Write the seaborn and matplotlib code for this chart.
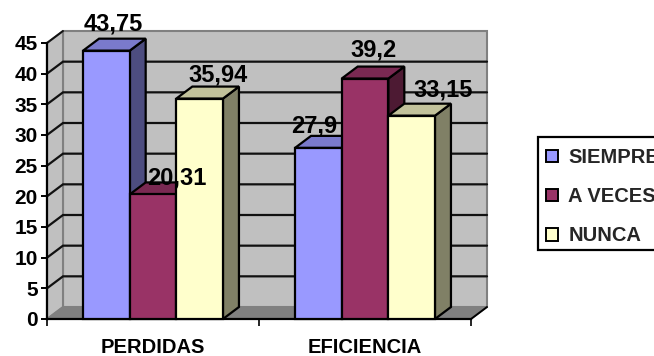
import matplotlib
matplotlib.use("Agg")
import matplotlib.pyplot as plt
from matplotlib.patches import Polygon, Patch, Rectangle
import pandas as pd
import seaborn as sns

categories = ["PERDIDAS", "EFICIENCIA"]
series_names = ["SIEMPRE", "A VECES", "NUNCA"]
siempre = [43.75, 27.9]
a_veces = [20.31, 39.2]
nunca = [35.94, 33.15]
value_labels = [["43,75", "27,9"], ["20,31", "39,2"], ["35,94", "33,15"]]
y_ticks = [0, 5, 10, 15, 20, 25, 30, 35, 40, 45]

front_colors = ["#9999FF", "#993366", "#FFFFCC"]
top_colors = ["#7A7ACC", "#7A2952", "#C2C29B"]
side_colors = ["#4D4D80", "#4D1A33", "#808066"]
# label offsets in pixels from the bar's top centre (series, category)
label_offsets = [[(7, 20), (-4, 15)], [(24, 10), (9, 22)], [(18, 17), (31, 19)]]

W, H = 654, 356
X0, X1, Y0, Y45 = 47, 471, 319, 43
DEPTH_X_PX, DEPTH_Y_PX = 16, 12

df = pd.DataFrame({
    "cat": categories * 3,
    "serie": [s for s in series_names for _ in categories],
    "val": siempre + a_veces + nunca,
})

sns.set_theme(style="white")
plt.rcParams["font.family"] = ["Liberation Sans", "DejaVu Sans"]
plt.rcParams["font.weight"] = "bold"

fig = plt.figure(figsize=(W / 100, H / 100), dpi=100, facecolor="white")
ax = fig.add_axes([X0 / W, (H - Y0) / H, (X1 - X0) / W, (Y0 - Y45) / H])
ax.patch.set_alpha(0)

sns.barplot(data=df, x="cat", y="val", hue="serie", hue_order=series_names,
            order=categories, palette=front_colors, width=0.66, gap=0,
            saturation=1, edgecolor="black", linewidth=1.6, ax=ax, legend=False)
ax.set_xlim(-0.5, 1.5)
ax.set_ylim(0, 45)
dx = DEPTH_X_PX * 2 / (X1 - X0)
dy = DEPTH_Y_PX * 45 / (Y0 - Y45)

# walls and floor
wall_kw = dict(clip_on=False, zorder=0.5)
ax.add_patch(Polygon([(-0.5 + dx, dy), (1.5 + dx, dy), (1.5 + dx, 45 + dy), (-0.5 + dx, 45 + dy)],
                     fc="#C0C0C0", ec="#808080", lw=1.5, **wall_kw))
ax.add_patch(Polygon([(-0.5, 0), (-0.5 + dx, dy), (-0.5 + dx, 45 + dy), (-0.5, 45)],
                     fc="#C0C0C0", ec="#808080", lw=1.5, **wall_kw))
ax.add_patch(Polygon([(-0.5, 0), (1.5, 0), (1.5 + dx, dy), (-0.5 + dx, dy)],
                     fc="#808080", ec="#808080", lw=1, **wall_kw))
for t in y_ticks[1:-1]:
    ax.plot([-0.5, -0.5 + dx, 1.5 + dx], [t, t + dy, t + dy], color="#111111",
            lw=1.6, clip_on=False, zorder=0.8, solid_joinstyle="miter")
ax.plot([-0.5, -0.5 + dx], [45, 45 + dy], color="#111111", lw=1.4, clip_on=False, zorder=0.8)
ax.plot([1.5, 1.5 + dx], [0, dy], color="black", lw=1.4, clip_on=False, zorder=0.8)

# 3D faces, each series stacked above the one before it
for i, cont in enumerate(ax.containers):
    z = 2 + i
    for j, bar in enumerate(cont):
        x, w, v = bar.get_x(), bar.get_width(), bar.get_height()
        bar.set_zorder(z + 0.1)
        bar.set_clip_on(False)
        ax.add_patch(Polygon([(x + w, 0), (x + w + dx, dy), (x + w + dx, v + dy), (x + w, v)],
                             fc=side_colors[i], ec="black", lw=1.6, zorder=z, clip_on=False))
        ax.add_patch(Polygon([(x, v), (x + dx, v + dy), (x + w + dx, v + dy), (x + w, v)],
                             fc=top_colors[i], ec="black", lw=1.6, zorder=z, clip_on=False))
        ax.annotate(value_labels[i][j], xy=(x + w / 2, v), xytext=label_offsets[i][j],
                    textcoords="offset pixels", ha="center", va="baseline",
                    fontsize=17, fontweight="bold", color="black", zorder=10,
                    annotation_clip=False)

# axes
for s in ["top", "right"]:
    ax.spines[s].set_visible(False)
for s in ["left", "bottom"]:
    ax.spines[s].set_color("black")
    ax.spines[s].set_linewidth(1.6)
    ax.spines[s].set_zorder(1.5)
ax.set_xlabel("")
ax.set_ylabel("")
ax.set_yticks(y_ticks)
ax.set_xticks([-0.5, 0.5, 1.5], labels=["", "", ""])
ax.set_xticks([0, 1], labels=categories, minor=True)
ax.tick_params(axis="y", which="major", left=True, length=4.5, width=1.4, color="black",
               pad=2, labelsize=15, labelcolor="black")
ax.tick_params(axis="x", which="major", bottom=True, length=5, width=1.2, color="black")
ax.tick_params(axis="x", which="minor", bottom=False, length=0, pad=13.5, labelsize=14.5, labelcolor="black")
for t in ax.get_xticklabels(minor=True) + ax.get_yticklabels():
    t.set_fontweight("bold")

# legend: frame runs past the right edge of the picture
fig.add_artist(Rectangle((538 / W, 1 - 250 / H), 130 / W, 113 / H, transform=fig.transFigure,
                         fc="white", ec="black", lw=1.6, zorder=1))
handles = [Patch(fc=c, ec="black", lw=1.4, label=n) for c, n in zip(front_colors, series_names)]
leg = fig.legend(handles=handles, loc="upper left", bbox_to_anchor=(546 / W, 1 - 148 / H),
                 bbox_transform=fig.transFigure, borderaxespad=0, frameon=False, borderpad=0,
                 handlelength=0.6, handleheight=0.6, handletextpad=0.5,
                 labelspacing=1.0, prop={"family": "Liberation Sans", "weight": "bold", "size": 14.5})
leg.set_zorder(5)
for t in leg.get_texts():
    t.set_clip_on(False)

fig.savefig("out.png", dpi=100, facecolor="white")
